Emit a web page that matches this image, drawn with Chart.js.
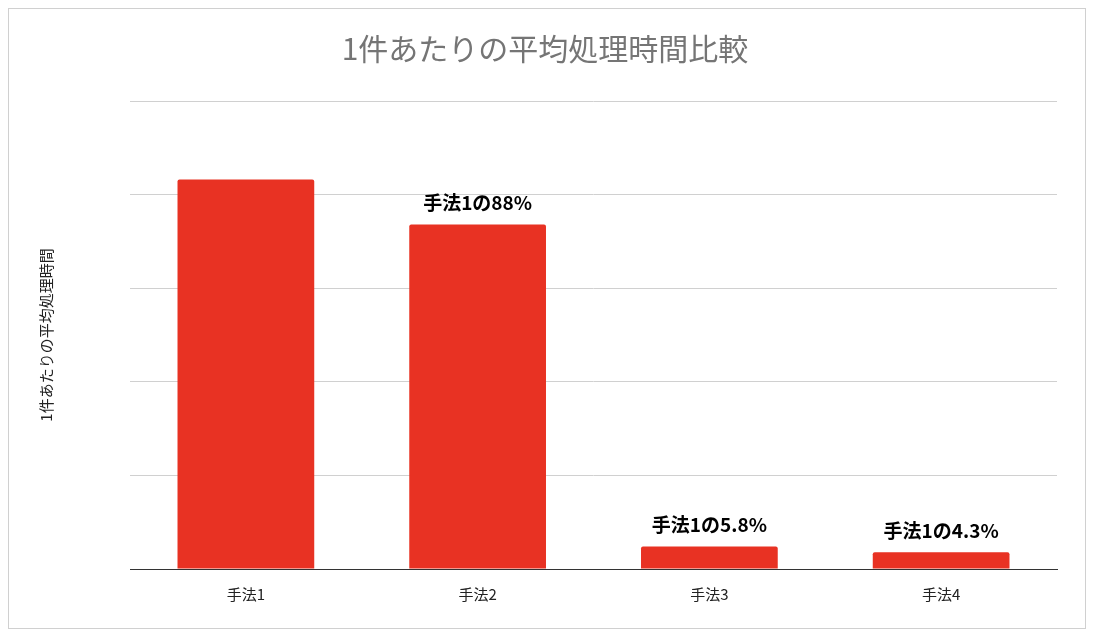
<!DOCTYPE html>
<html><head><meta charset="utf-8">
<script src="https://cdn.jsdelivr.net/npm/chart.js@4"></script>
<style>
html,body{margin:0;background:#fff;}
#wrap{position:absolute;left:8px;top:8px;width:1078px;height:621px;border:1px solid #d0d0d0;box-sizing:border-box;}
</style></head><body>
<div id="wrap"><canvas id="c"></canvas></div>
<script>
const categories = ["手法1","手法2","手法3","手法4"];
const values = [4.16, 3.68, 0.24, 0.18];
const barLabels = ["", "手法1の88%", "手法1の5.8%", "手法1の4.3%"];
const FONT = "'Noto Sans CJK JP', 'Liberation Sans', sans-serif";
const labelPlugin = {
  id:'lbl',
  afterDatasetsDraw(chart){
    const ctx = chart.ctx;
    const meta = chart.getDatasetMeta(0);
    ctx.save();
    ctx.font = "bold 19px " + FONT;
    ctx.fillStyle = "#000";
    ctx.textAlign = "center";
    ctx.textBaseline = "bottom";
    meta.data.forEach((b,i)=>{ if(barLabels[i]) ctx.fillText(barLabels[i], b.x, b.y - 12); });
    ctx.restore();
  }
};
new Chart(document.getElementById('c'), {
  type:'bar',
  data:{labels:categories, datasets:[{data:values, backgroundColor:'#e83223', borderRadius:2,
    categoryPercentage:1, barPercentage:0.59}]},
  options:{
    responsive:true, maintainAspectRatio:false, animation:false,
    layout:{padding:{left:24,right:28,top:0,bottom:17}},
    plugins:{legend:{display:false}, tooltip:{enabled:false},
      title:{display:true, text:"1件あたりの平均処理時間比較", color:'#757575',
        font:{family:FONT, size:30, weight:'normal'}, padding:{top:22,bottom:34}}},
    scales:{
      x:{grid:{display:false}, border:{color:'#333'},
        ticks:{color:'#222', font:{family:FONT, size:15}, padding:8}},
      y:{min:0, max:5, ticks:{stepSize:1, display:false},
        grid:{color:'#d0d0d0', drawTicks:false}, border:{display:false},
        title:{display:true, text:"1件あたりの平均処理時間", color:'#222',
          font:{family:FONT, size:15}, padding:{bottom:75}}}
    }
  },
  plugins:[labelPlugin]
});
</script></body></html>
